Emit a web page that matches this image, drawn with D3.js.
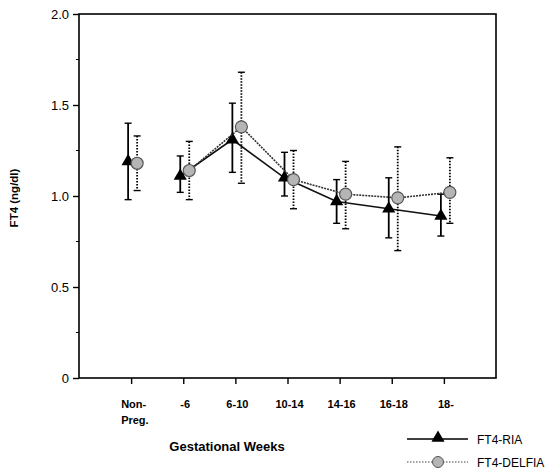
<!DOCTYPE html>
<html>
<head>
<meta charset="utf-8">
<script src="https://cdn.jsdelivr.net/npm/d3@7"></script>
<style>
  body { margin: 0; background: #fff; }
  svg { display: block; font-family: Arial, "Liberation Sans", sans-serif; }
</style>
</head>
<body>
<svg id="chart"></svg>
<script>
// Categories (gestational weeks)
const categories = ['Non-|Preg.', '-6', '6-10', '10-14', '14-16', '16-18', '18-'];

// FT4-RIA: mean, upper and lower error bar ends
const riaMean  = [1.19, 1.11, 1.31, 1.10, 0.97, 0.93, 0.89];
const riaUpper = [1.40, 1.22, 1.51, 1.24, 1.09, 1.10, 1.01];
const riaLower = [0.98, 1.02, 1.13, 1.00, 0.85, 0.77, 0.78];

// FT4-DELFIA
const delMean  = [1.18, 1.14, 1.38, 1.09, 1.01, 0.99, 1.02];
const delUpper = [1.33, 1.30, 1.68, 1.25, 1.19, 1.27, 1.21];
const delLower = [1.03, 0.98, 1.07, 0.93, 0.82, 0.70, 0.85];

const yTicks = [0, 0.5, 1.0, 1.5, 2.0];
const yTickLabels = ['0', '0.5', '1.0', '1.5', '2.0'];

const width = 560, height = 475;
const svg = d3.select('#chart').attr('width', width).attr('height', height);

const x = d3.scaleLinear().domain([0, 8]).range([79, 496]);
const y = d3.scaleLinear().domain([0, 2]).range([378, 14]);

const riaOff = -3, delOff = 6;

// frame
svg.append('rect')
    .attr('x', x(0)).attr('y', y(2))
    .attr('width', x(8) - x(0)).attr('height', y(0) - y(2))
    .attr('fill', 'none').attr('stroke', '#000').attr('stroke-width', 1.6);

// y axis
const yAxis = svg.append('g')
    .attr('transform', `translate(${x(0)},0)`)
    .call(d3.axisLeft(y).tickValues(yTicks).tickFormat((d, i) => yTickLabels[i]).tickSize(6).tickPadding(4));
yAxis.select('.domain').remove();
yAxis.selectAll('text').style('font-size', '13px');
yAxis.selectAll('line').attr('stroke-width', 1.4);

// minor y ticks
svg.append('g')
    .selectAll('line')
    .data([0.25, 0.75, 1.25, 1.75])
    .enter()
    .append('line')
    .attr('x1', x(0) - 3).attr('x2', x(0))
    .attr('y1', d => y(d)).attr('y2', d => y(d))
    .attr('stroke', '#000');

// x axis
const xAxis = svg.append('g')
    .attr('transform', `translate(0,${y(0)})`)
    .call(d3.axisBottom(x).tickValues(d3.range(1, 8)).tickFormat('').tickSize(6));
xAxis.select('.domain').remove();
xAxis.selectAll('line').attr('stroke-width', 1.4);

// x tick labels (two lines for Non-Preg.)
const xLabels = svg.append('g')
    .selectAll('text')
    .data(categories)
    .enter()
    .append('text')
    .attr('x', (d, i) => i === 0 ? x(i + 1) - 10 : x(i + 1) + 2)
    .attr('y', 408)
    .attr('text-anchor', (d, i) => i === 0 ? 'start' : 'middle')
    .style('font-size', '11px')
    .style('font-weight', 'bold');
xLabels.each(function (d) {
    const parts = d.split('|');
    const t = d3.select(this);
    parts.forEach((p, k) => {
        t.append('tspan')
            .attr('x', t.attr('x'))
            .attr('dy', k === 0 ? 0 : 16)
            .text(p);
    });
});

// axis titles
svg.append('text')
    .attr('x', 227).attr('y', 451)
    .attr('text-anchor', 'middle')
    .style('font-size', '13px')
    .style('font-weight', 'bold')
    .text('Gestational Weeks');

svg.append('text')
    .attr('transform', `translate(18,198) rotate(-90)`)
    .attr('text-anchor', 'middle')
    .style('font-size', '11.5px')
    .style('font-weight', 'bold')
    .text('FT4 (ng/dl)');

// series
const series = [
    { name: 'FT4-RIA', mean: riaMean, upper: riaUpper, lower: riaLower, off: riaOff, dash: null, lineColor: '#111' },
    { name: 'FT4-DELFIA', mean: delMean, upper: delUpper, lower: delLower, off: delOff, dash: '1.5,1.5', lineColor: '#333' }
];

const triangle = d3.symbol().type(d3.symbolTriangle).size(75);

series.forEach((s, si) => {
    const g = svg.append('g');
    const idx = d3.range(s.mean.length);

    // connecting line (not including Non-Preg.)
    const line = d3.line()
        .x(i => x(i + 1) + s.off)
        .y(i => y(s.mean[i]));
    g.append('path')
        .datum(idx.slice(1))
        .attr('d', line)
        .attr('fill', 'none')
        .attr('stroke', s.lineColor)
        .attr('stroke-width', 1.6)
        .attr('stroke-dasharray', si === 1 ? '2,1' : null);

    // error bars
    g.selectAll('.err')
        .data(idx)
        .enter()
        .append('line')
        .attr('x1', i => x(i + 1) + s.off).attr('x2', i => x(i + 1) + s.off)
        .attr('y1', i => y(s.upper[i])).attr('y2', i => y(s.lower[i]))
        .attr('stroke', '#000')
        .attr('stroke-width', 1.8)
        .attr('stroke-dasharray', s.dash);

    ['upper', 'lower'].forEach(k => {
        g.selectAll('.cap-' + k)
            .data(idx)
            .enter()
            .append('line')
            .attr('x1', i => x(i + 1) + s.off - 3.5).attr('x2', i => x(i + 1) + s.off + 3.5)
            .attr('y1', i => y(s[k][i])).attr('y2', i => y(s[k][i]))
            .attr('stroke', '#000')
            .attr('stroke-width', 1.4);
    });

    // markers
    if (si === 0) {
        g.selectAll('.mk')
            .data(idx)
            .enter()
            .append('path')
            .attr('d', triangle)
            .attr('transform', i => `translate(${x(i + 1) + s.off},${y(s.mean[i])})`)
            .attr('fill', '#000');
    } else {
        g.selectAll('.mk')
            .data(idx)
            .enter()
            .append('circle')
            .attr('cx', i => x(i + 1) + s.off)
            .attr('cy', i => y(s.mean[i]))
            .attr('r', 6)
            .attr('fill', '#b5b5b5')
            .attr('stroke', '#555')
            .attr('stroke-width', 1.2);
    }
});

// legend
const legend = svg.append('g');
series.forEach((s, si) => {
    const ly = 439 + si * 23;
    legend.append('line')
        .attr('x1', 407).attr('x2', 468)
        .attr('y1', ly).attr('y2', ly)
        .attr('stroke', si === 0 ? '#000' : '#444')
        .attr('stroke-width', si === 0 ? 1.6 : 1.2)
        .attr('stroke-dasharray', si === 0 ? null : '1.5,1.5');
    if (si === 0) {
        legend.append('path')
            .attr('d', triangle)
            .attr('transform', `translate(438,${ly - 1})`)
            .attr('fill', '#000');
    } else {
        legend.append('circle')
            .attr('cx', 438).attr('cy', ly)
            .attr('r', 5.5)
            .attr('fill', '#b5b5b5')
            .attr('stroke', '#555');
    }
    legend.append('text')
        .attr('x', 477).attr('y', ly + 5)
        .style('font-size', '12px')
        .text(s.name);
});
</script>
</body>
</html>
